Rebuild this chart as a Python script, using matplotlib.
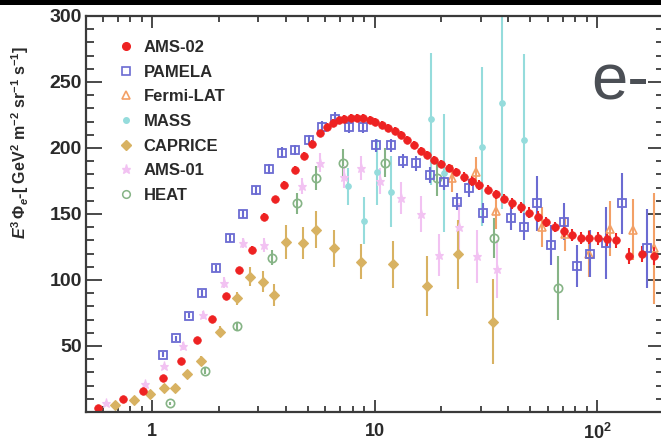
import matplotlib
matplotlib.use("Agg")
import matplotlib.pyplot as plt
from matplotlib.ticker import LogLocator, MultipleLocator, FixedLocator, FixedFormatter, NullFormatter
from matplotlib.lines import Line2D
from matplotlib.patches import Rectangle

plt.rcParams['font.family'] = ['Liberation Sans', 'DejaVu Sans']
plt.rcParams['mathtext.fontset'] = 'custom'
plt.rcParams['mathtext.rm'] = 'Liberation Sans:bold'
plt.rcParams['mathtext.it'] = 'Liberation Sans:bold:italic'
plt.rcParams['mathtext.bf'] = 'Liberation Sans:bold'

# ---- electron flux E^3 * Phi (GeV^2 m^-2 sr^-1 s^-1) vs energy (GeV) ----
ams02_E = [0.57, 0.74, 0.91, 1.12, 1.35, 1.59, 1.86, 2.16, 2.47, 2.81, 3.17, 3.58,
           3.90, 4.41, 4.80, 5.24, 5.71, 6.10, 6.5, 6.9, 7.3, 7.8, 8.3, 8.9, 9.5,
           10.1, 10.8, 11.5, 12.3, 13.1, 14.0, 15.0, 16.1, 17.3, 18.6, 20.0, 21.6,
           23.3, 25.2, 27.3, 29.6, 32.2, 35.0, 38.1, 41.5, 45.3, 49.5, 54.1, 59.1,
           64.6, 70.7, 77.3, 84.5, 92.4, 101, 111, 122, 139, 159, 181]
ams02_V = [2.8, 9.6, 15.9, 25.5, 39, 54.5, 70.7, 87.9, 107.6, 123, 148, 161,
           172, 183, 194, 203, 211, 216, 219, 221, 222, 223, 223, 222.5, 221.5,
           220, 217.5, 215, 213, 210, 206, 202, 198, 194.5, 191, 188, 185,
           182, 178, 175, 172, 168.5, 165, 161.5, 158, 155, 151, 148, 144,
           140, 137, 134, 132, 132, 131.5, 131, 130, 118, 120, 118]
ams02_err = [1.5, 1.5, 1.5, 1.5, 1.5, 2, 2, 2, 2.5, 2.5, 3, 3,
             3, 3, 3, 3, 3, 3, 3, 3, 3, 3, 3, 3, 3,
             3, 3, 3, 3, 3, 3, 3, 3, 3, 3, 3, 3,
             3, 3.5, 3.5, 3.5, 3.5, 3.5, 3.5, 4, 4, 4, 4, 4,
             4, 4.5, 4.5, 4.5, 5, 5, 5, 5.5, 6, 6, 7]

pamela_E = [1.12, 1.28, 1.47, 1.68, 1.94, 2.23, 2.56, 2.94, 3.34, 3.84, 4.41, 5.06,
            5.81, 6.67, 7.7, 8.9, 10.2, 11.8, 13.4, 15.4, 17.7, 20.5, 23.4, 26.5,
            30.8, 41, 47.1, 53.5, 62, 70.7, 81.2, 93.1, 110, 130, 167]
pamela_V = [43.5, 55.8, 73, 90, 108.8, 131.6, 150, 168, 184, 196.4, 198.5, 206,
            216, 222, 216, 216, 202, 202, 190, 188.4, 179.5, 174.5, 159.3, 169.5,
            151, 146.7, 140.4, 158, 126.5, 144, 110.6, 120, 128, 158, 124]
pamela_err = [2, 2, 2, 2.5, 2.5, 3, 3, 3.5, 4, 4, 4, 4,
              4.5, 5, 5, 5, 5, 5, 5.5, 5.5, 6, 6, 6.5, 7,
              7.5, 9, 10, 21, 15, 14, 16, 18, 27, 23, 30]

fermi_E = [22.4, 28.5, 35, 56.6, 71.5, 92, 114, 145, 180]
fermi_V = [177, 182, 152, 140, 135, 120, 139, 138, 124]
fermi_err = [10, 11, 13, 15, 13, 18, 21, 23, 42]

mass_E = [7.6, 8.95, 10.3, 11.8, 17.9, 20.5, 30.5, 37.6, 47]
mass_V = [171, 145, 182, 167, 222, 181, 201, 234, 206]
mass_err = [14, 18, 25, 27, 50, 45, 60, 80, 65]

caprice_E = [0.68, 0.83, 0.98, 1.13, 1.27, 1.43, 1.66, 2.02, 2.41, 2.76, 3.14, 3.52,
             4.01, 4.77, 5.48, 6.56, 8.65, 12.1, 17.3, 23.8, 34.2]
caprice_V = [5.3, 9, 13.4, 18.4, 18.4, 28.8, 38.6, 60.8, 86, 102.5, 98.7, 88.6,
             129, 127.8, 137.9, 124, 113.9, 111.9, 95.5, 119.5, 68.4]
caprice_err = [1.5, 2, 2, 3, 3, 3, 4, 4, 5, 7, 8, 8,
               13, 12, 14, 14, 13, 18, 23, 26, 32]

ams01_E = [0.62, 0.93, 1.13, 1.38, 1.70, 2.10, 2.56, 3.17, 4.7, 5.71, 7.3, 8.7,
           10.6, 13.1, 16.1, 19.5, 24, 29, 35.7]
ams01_V = [7, 21, 34.5, 50, 73.5, 98, 128, 126.5, 171, 189, 178, 185,
           175, 162, 150, 119, 140, 118, 108]
ams01_err = [1.5, 2, 2, 3, 3, 4, 4, 5, 6, 7, 8, 9,
             10, 12, 14, 16, 18, 20, 22]

heat_E = [1.21, 1.73, 2.42, 3.46, 4.5, 5.48, 7.22, 11.1, 19.0, 34.4, 66.6]
heat_V = [6.6, 31, 65, 117, 158, 177, 189, 189, 177, 132, 94]
heat_err = [1, 2, 3, 6, 8, 9, 10, 11, 13, 15, 24]

x_ticks = [1, 10, 100]
x_labels = ['1', '10', r'$\mathbf{10^{2}}$']
y_ticks = [50, 100, 150, 200, 250, 300]

# colours
c_ams02 = '#ee2222'
c_pamela = '#6b6bd2'
c_fermi = '#f3a066'
c_mass = '#95dcdc'
c_caprice = '#d8b262'
c_ams01 = '#f2c2f2'
c_heat = '#86b486'

W, H = 661, 444
fig = plt.figure(figsize=(W / 100, H / 100), dpi=100)
fig.patch.set_facecolor('white')

x0, x1, y0, y1 = 86, 664, 16, 412
ax = fig.add_axes([x0 / W, 1 - y1 / H, (x1 - x0) / W, (y1 - y0) / H])
ax.set_xscale('log')
ax.set_xlim(0.505, 200)
ax.set_ylim(0, 300)

series = [
    ('HEAT', heat_E, heat_V, heat_err, dict(fmt='o', mfc='none', mec=c_heat, color=c_heat, ms=6, mew=1.2)),
    ('AMS-01', ams01_E, ams01_V, ams01_err, dict(fmt='*', mfc=c_ams01, mec=c_ams01, color=c_ams01, ms=6.5, mew=0.8)),
    ('CAPRICE', caprice_E, caprice_V, caprice_err, dict(fmt='D', mfc=c_caprice, mec=c_caprice, color=c_caprice, ms=4.8, mew=0.8)),
    ('MASS', mass_E, mass_V, mass_err, dict(fmt='o', mfc=c_mass, mec=c_mass, color=c_mass, ms=4, mew=0.8)),
    ('Fermi-LAT', fermi_E, fermi_V, fermi_err, dict(fmt='^', mfc='none', mec=c_fermi, color=c_fermi, ms=6, mew=1.2)),
    ('PAMELA', pamela_E, pamela_V, pamela_err, dict(fmt='s', mfc='none', mec=c_pamela, color=c_pamela, ms=5.6, mew=1.3)),
    ('AMS-02', ams02_E, ams02_V, ams02_err, dict(fmt='o', mfc=c_ams02, mec=c_ams02, color=c_ams02, ms=5.5, mew=0.5)),
]
for name, e, v, err, kw in series:
    ax.errorbar(e, v, yerr=err, elinewidth=1.5, capsize=0, clip_on=True, **kw)

# frame and ticks
for sp in ax.spines.values():
    sp.set_color('#3a3a3a')
    sp.set_linewidth(1.6)
ax.xaxis.set_major_locator(FixedLocator(x_ticks))
ax.xaxis.set_major_formatter(FixedFormatter(x_labels))
ax.xaxis.set_minor_locator(LogLocator(base=10, subs=[2, 3, 4, 5, 6, 7, 8, 9], numticks=20))
ax.xaxis.set_minor_formatter(NullFormatter())
ax.yaxis.set_major_locator(FixedLocator(y_ticks))
ax.yaxis.set_minor_locator(MultipleLocator(10))
ax.tick_params(axis='both', which='both', direction='in', top=True, right=True,
               color='#3a3a3a', width=1.3)
ax.tick_params(axis='x', which='major', length=8.5, pad=8, labelsize=13)
ax.tick_params(axis='x', which='minor', length=4.5)
ax.tick_params(axis='y', which='major', length=11.5, pad=3, labelsize=14)
ax.tick_params(axis='y', which='minor', length=6)
for lab in ax.get_xticklabels() + ax.get_yticklabels():
    lab.set_fontweight('bold')
    lab.set_color('#2a2a2a')

# legend
handles = [
    Line2D([], [], ls='none', marker='o', mfc=c_ams02, mec=c_ams02, ms=5.5),
    Line2D([], [], ls='none', marker='s', mfc='none', mec=c_pamela, ms=5.5, mew=1.2),
    Line2D([], [], ls='none', marker='^', mfc='none', mec=c_fermi, ms=6, mew=1.2),
    Line2D([], [], ls='none', marker='o', mfc=c_mass, mec=c_mass, ms=4),
    Line2D([], [], ls='none', marker='D', mfc=c_caprice, mec=c_caprice, ms=5),
    Line2D([], [], ls='none', marker='*', mfc=c_ams01, mec=c_ams01, ms=6.5),
    Line2D([], [], ls='none', marker='o', mfc='none', mec=c_heat, ms=5.5, mew=1.1),
]
labels = ['AMS-02', 'PAMELA', 'Fermi-LAT', 'MASS', 'CAPRICE', 'AMS-01', 'HEAT']
leg = ax.legend(handles, labels, loc='upper left',
                bbox_to_anchor=(118 / W, 1 - 40 / H), bbox_transform=fig.transFigure,
                frameon=False, handlelength=0.9, handletextpad=0.65,
                labelspacing=0.58, borderaxespad=0, borderpad=0,
                prop={'family': 'Liberation Sans', 'weight': 'bold', 'size': 12})
for t in leg.get_texts():
    t.set_color('#2a2a2a')

# axis title
fig.text(20 / W, 1 - 142 / H,
         r'$E^{3}\,\Phi_{e}$-[ GeV$^{2}$ m$^{-2}$ sr$^{-1}$ s$^{-1}$]',
         rotation=90, ha='center', va='center', fontsize=11.5, color='#2a2a2a',
         fontweight='bold')

# particle label
fig.text(591 / W, 1 - 100 / H, 'e-', fontsize=47, color='#4b4f55',
         family='Liberation Sans', ha='left', va='baseline')

# dark strip along the top edge
fig.patches.append(Rectangle((0, 1 - 5 / H), 1, 5 / H, transform=fig.transFigure,
                             facecolor='black', edgecolor='none', zorder=10))

fig.savefig('out.png', dpi=100)
